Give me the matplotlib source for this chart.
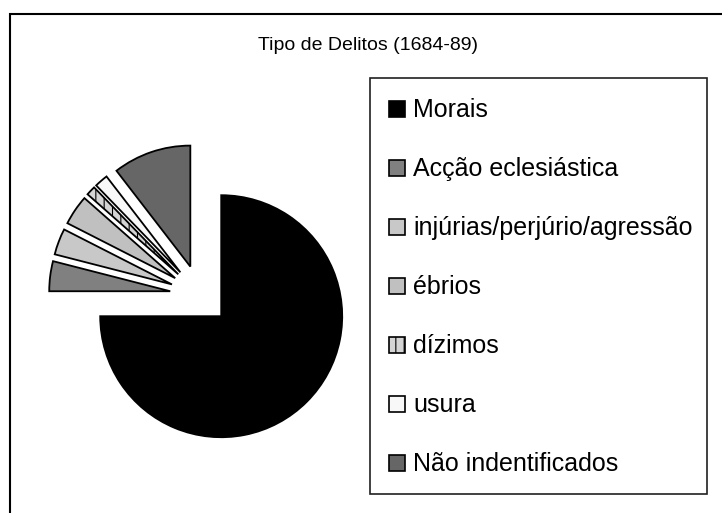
import matplotlib
matplotlib.use("Agg")
import matplotlib.pyplot as plt
import matplotlib.patches as patches

plt.rcParams['font.family'] = ['Liberation Sans', 'DejaVu Sans']
plt.rcParams['hatch.color'] = '#a8a8a8'
plt.rcParams['hatch.linewidth'] = 0.8

# data
labels = ["Morais", "Acção eclesiástica", "injúrias/perjúrio/agressão",
          "ébrios", "dízimos", "usura", "Não indentificados"]
values = [75.0, 4.0, 3.5, 4.0, 1.25, 1.8, 10.45]
colors = ["#000000", "#808080", "#c8c8c8", "#c0c0c0", "#d4d4d4",
          "#f8f8f8", "#666666"]
hatches = [None, None, None, None, "||", None, None]

W, H = 722, 513
fig = plt.figure(figsize=(W / 100, H / 100), dpi=100)
ax = fig.add_axes([0, 0, 1, 1])

# outer chart border (right/bottom edges run off the picture)
ax.add_patch(patches.Rectangle((10, -20), 740, H - 14 + 20,
                               fill=False, edgecolor='black', lw=1.5))

ax.text(368, H - 45, "Tipo de Delitos (1684-89)", ha='center', va='center',
        fontsize=14)

wedges, _ = ax.pie(values, colors=colors, startangle=90, counterclock=False,
                   center=(200, H - 295), radius=121, explode=[30] * len(values),
                   wedgeprops=dict(edgecolor='black', linewidth=1.3))
for w, h in zip(wedges, hatches):
    if h:
        w.set_hatch(h)
ax.set_xlim(0, W)
ax.set_ylim(0, H)
ax.set_aspect('equal')
ax.axis('off')

# legend box
ax.add_patch(patches.Rectangle((370, H - 494), 337, 416,
                               fill=False, edgecolor='#202020', lw=1.2))
for i, (lab, col, h) in enumerate(zip(labels, colors, hatches)):
    base = H - (117 + i * 59)
    ax.add_patch(patches.Rectangle((389, base), 16, 16, facecolor=col,
                                   edgecolor='black', lw=1.2, hatch=h))
    ax.text(413, base, lab, ha='left', va='baseline', fontsize=18)

fig.savefig("out.png", dpi=100)
